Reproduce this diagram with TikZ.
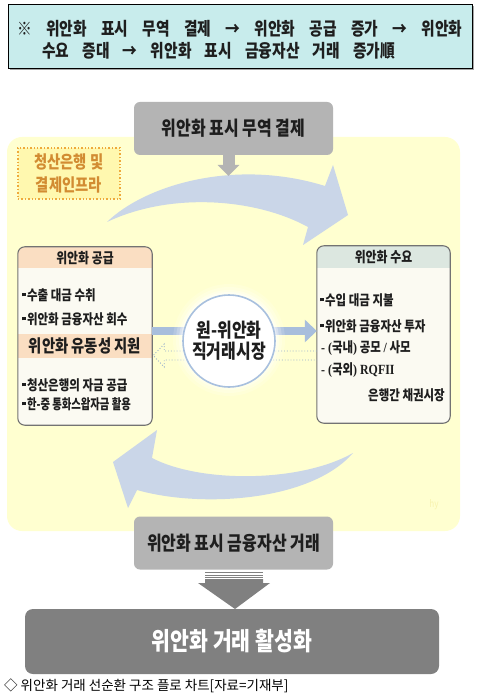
\documentclass[tikz,border=0pt]{standalone}
\usepackage{fontspec}
\setmainfont{Noto Sans CJK KR}[FakeStretch=0.82]
\newfontfamily\capfont{Noto Sans CJK KR}
\newfontfamily\serifft{Liberation Serif}[FakeStretch=0.85]
\usetikzlibrary{arrows.meta,calc}
\definecolor{topcyan}{RGB}{200,236,236}
\definecolor{bgyellow}{RGB}{255,255,208}
\definecolor{boxgray}{RGB}{180,180,180}
\definecolor{curveblue}{RGB}{202,214,232}
\definecolor{thickblue}{RGB}{168,190,220}
\definecolor{darkbox}{RGB}{128,128,128}
\definecolor{peach}{RGB}{250,222,194}
\definecolor{mint}{RGB}{220,231,224}
\definecolor{cream}{RGB}{251,250,242}
\definecolor{dotorange}{RGB}{238,170,60}
\definecolor{dotfill}{RGB}{255,248,175}
\definecolor{infratext}{RGB}{210,140,50}
\definecolor{ringblue}{RGB}{168,192,222}
\definecolor{dotblue}{RGB}{150,175,205}
\definecolor{txt}{RGB}{30,30,30}
\newcommand{\bul}{\raisebox{0.28em}{\rule{3.4pt}{3.4pt}}\hspace{1.5pt}}
\begin{document}
\begin{tikzpicture}[x=1pt,y=-1pt,
  graybox/.style={rounded corners=6pt, fill=boxgray, text=txt, font=\bfseries\fontsize{19.5}{21}\selectfont, minimum width=199pt, minimum height=53pt, inner sep=0pt},
  panel/.style={rounded corners=7pt, fill=cream, inner sep=0pt},
  panelline/.style={draw=black!55, line width=1.1pt, rounded corners=7pt},
  item/.style={anchor=west, inner sep=0pt, text=txt, font=\bfseries\fontsize{14}{16}\selectfont},
  head/.style={inner sep=0pt, text=txt, font=\bfseries\fontsize{14.5}{16}\selectfont},
  curvearrow/.style={fill=curveblue}
]
\useasboundingbox (0,0) rectangle (477,700);
\fill[white] (0,0) rectangle (477,700);

% yellow background
\fill[bgyellow, rounded corners=15pt] (7,137) rectangle (460,531);
\node[inner sep=0pt, text={rgb,255:red,248;green,243;blue,175}, font=\fontsize{10}{12}\selectfont] (hy) at (434,505) {hy};

% curved arrows
\fill[curvearrow] (107,222) .. controls (145,185) and (235,158) .. (325,186)
  -- (333,165) -- (348,215) -- (303,245) -- (308,227)
  .. controls (255,198) and (170,192) .. (107,222) -- cycle;
\fill[curvearrow] (353,453) .. controls (300,483) and (200,483) .. (152,458)
  -- (157,430) -- (113,462) -- (128,508) -- (137,490)
  .. controls (200,508) and (310,502) .. (353,453) -- cycle;

% top gray box
\node[graybox] (trade) at (233.5,128.5) {위안화 표시 무역 결제};
\coordinate (tradeend) at (228.5,176);
\draw[boxgray, line width=12pt, -{Triangle[width=21pt,length=11pt]}] (trade.south -| tradeend) -- (tradeend);

% infra box
\node[draw=dotorange, dotted, line width=1.4pt, fill=dotfill, minimum width=102pt, minimum height=51pt, align=center, text=infratext, font=\bfseries\fontsize{17.5}{23}\selectfont, inner sep=0pt] (infra) at (69,173.5) {청산은행 및\\결제인프라};

% left panel
\node[panel, minimum width=134pt, minimum height=178pt] (supply) at (85,336) {};
\begin{scope}
  \clip[rounded corners=7pt] (supply.north west) rectangle (supply.south east);
  \fill[peach] (18,247) rectangle (152,268);
  \fill[peach] (18,334) rectangle (152,358);
\end{scope}
\draw[panelline] (supply.north west) rectangle (supply.south east);
\node[head] (supplyh) at (85,258) {위안화 공급};
\node[item] (s1) at (22,295) {\bul 수출 대금 수취};
\node[item] (s2) at (22,319) {\bul 위안화 금융자산 회수};
\node[head, font=\bfseries\fontsize{17.5}{19}\selectfont] (liq) at (85,346) {위안화 유동성 지원};
\node[item] (s3) at (22,385) {\bul 청산은행의 자금 공급};
\node[item] (s4) at (22,404) {\bul\scalebox{0.9}[1]{한-중 통화스왑자금 활용}};

% right panel
\node[panel, minimum width=133pt, minimum height=177pt] (demand) at (383.5,334.5) {};
\begin{scope}
  \clip[rounded corners=7pt] (demand.north west) rectangle (demand.south east);
  \fill[mint] (317,246) rectangle (450,268);
\end{scope}
\draw[panelline] (demand.north west) rectangle (demand.south east);
\node[head] (demandh) at (383.5,257) {위안화 수요};
\node[item] (d1) at (320,300) {\bul 수입 대금 지불};
\node[item] (d2) at (320,326) {\bul 위안화 금융자산 투자};
\node[item] (d3) at (321,348) {{\serifft\bfseries - (}국내{\serifft\bfseries )} 공모 {\serifft\bfseries /} 사모};
\node[item] (d4) at (321,370) {{\serifft\bfseries - (}국외{\serifft\bfseries ) RQFII}};
\node[item, anchor=east] (d5) at (445,395) {은행간 채권시장};

% flows through the market
\draw[thickblue, line width=8pt, -{Triangle[width=22pt,length=12pt]}] ([yshift=5pt]supply.east) -- ([yshift=3.5pt]demand.west);
\draw[dotblue, dotted, line width=0.9pt]
  ($(demand.west)+(0,16.5)$) -- ($(supply.east)+(12,15)$) -- ($(supply.east)+(12,8)$)
  -- ($(supply.east)+(1,19.5)$) -- ($(supply.east)+(12,31)$) -- ($(supply.east)+(12,24)$)
  -- ($(demand.west)+(0,25.5)$);

% market circle with halo
\foreach \r/\o in {56/0.15,53/0.2,50/0.3,48/0.4}
  \fill[white, opacity=\o] (229,340) circle (\r pt);
\node[circle, minimum size=92pt, fill=white, draw=ringblue, line width=1.6pt, inner sep=0pt, align=center, text=txt, font=\bfseries\fontsize{19.5}{21}\selectfont] (mkt) at (229,341) {원-위안화\\직거래시장};

% bottom gray box
\node[graybox] (fin) at (233.5,543) {위안화 표시 금융자산 거래};

% stripes and big arrow
\foreach \yy in {572.5,575,577.5}
  \draw[darkbox, line width=0.9pt] (205,\yy) -- (263,\yy);
\fill[darkbox] (205,579) -- (263,579) -- (263,583) -- (270,583) -- (235,609) -- (198,583) -- (205,583) -- cycle;

% bottom box
\node[rounded corners=8pt, fill=darkbox, minimum width=414pt, minimum height=65pt, text=white, font=\bfseries\fontsize{25}{28}\selectfont, inner sep=0pt] (act) at (232,641.5) {위안화 거래 활성화};

% caption
\node[anchor=west, inner sep=0pt, font=\capfont\fontsize{13.5}{15}\selectfont] (cap) at (4,686) {◇ 위안화 거래 선순환 구조 플로 차트[자료=기재부]};

% top note box
\fill[black!35] (10,6) rectangle (474,70);
\node[draw=black, line width=0.8pt, fill=topcyan, minimum width=464pt, minimum height=64pt, inner sep=0pt] (note) at (240,36) {};
\node[anchor=west, inner sep=0pt, text=txt, font=\bfseries\fontsize{18}{20}\selectfont] (n1) at (17,29) {\makebox[445pt][s]{※ 위안화 표시 무역 결제 → 위안화 공급 증가 → 위안화}};
\node[anchor=west, inner sep=0pt, text=txt, font=\bfseries\fontsize{18}{20}\selectfont] (n2) at (42,51) {\makebox[353pt][s]{수요 증대 → 위안화 표시 금융자산 거래 증가順}};
\end{tikzpicture}
\end{document}
